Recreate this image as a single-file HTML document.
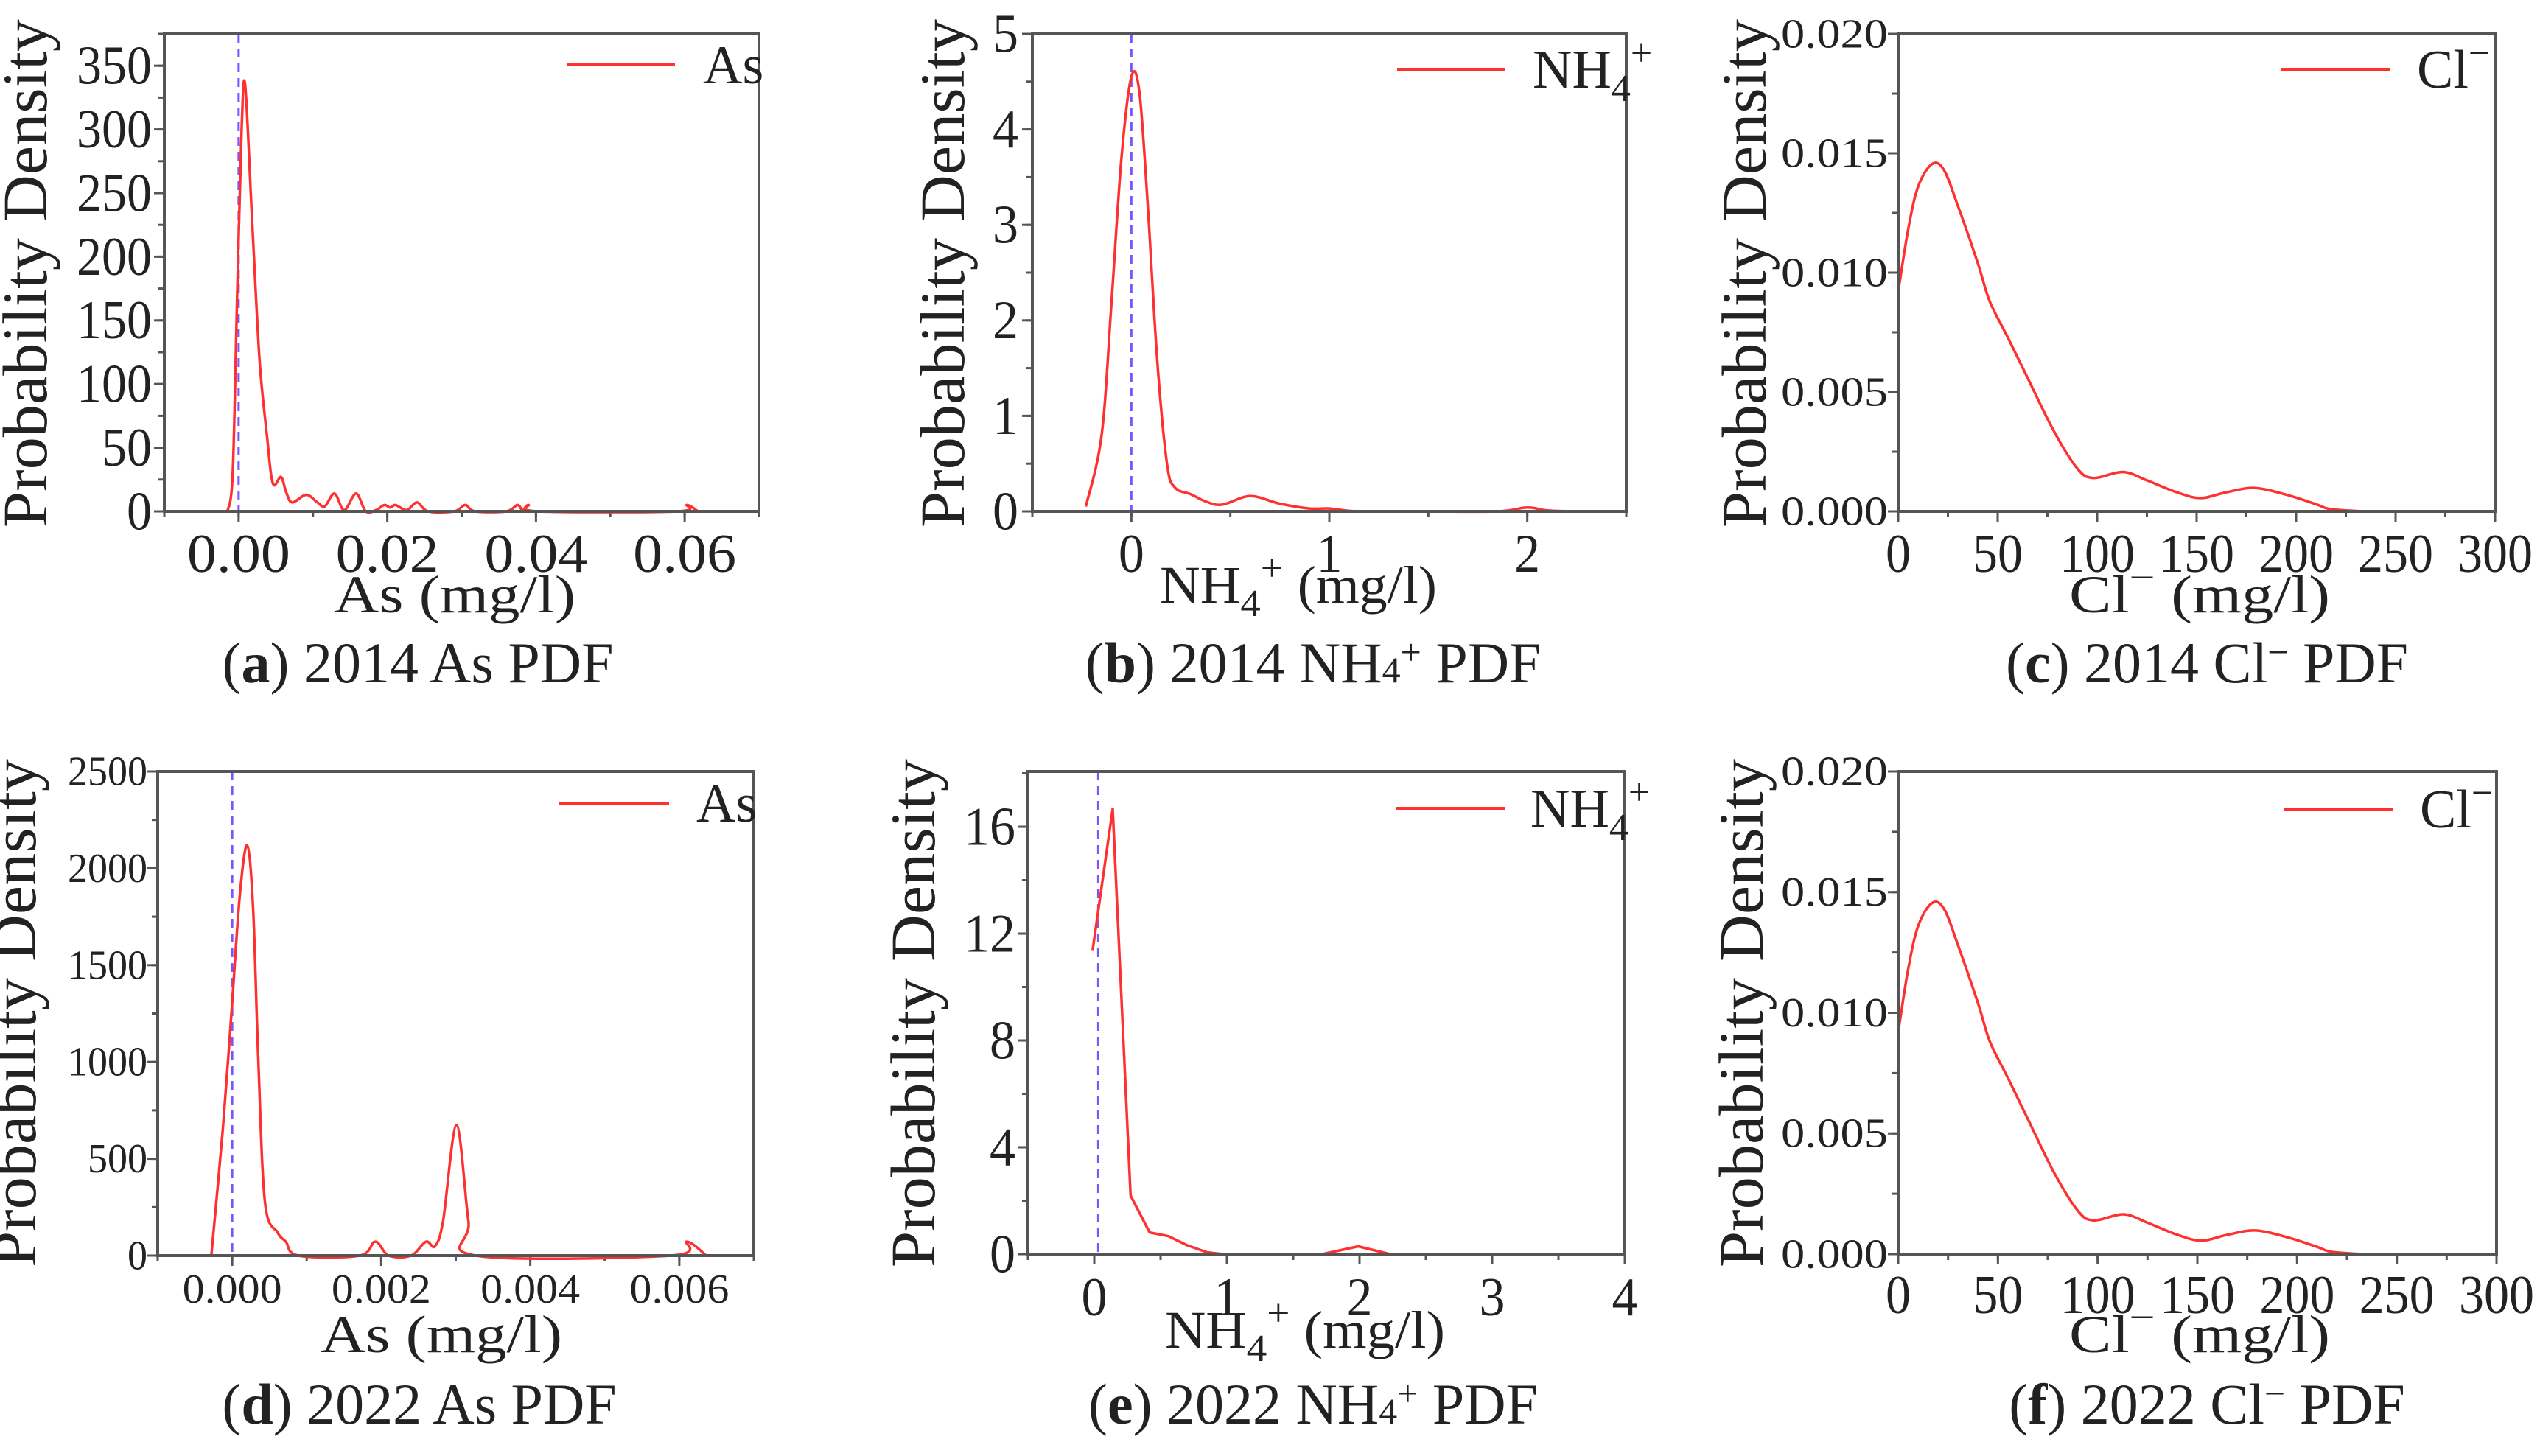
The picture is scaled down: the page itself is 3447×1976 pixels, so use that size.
<!DOCTYPE html>
<html><head><meta charset="utf-8"><style>
html,body{margin:0;padding:0;background:#fff;}
svg{display:block;}
text{font-family:"Liberation Serif","Noto Serif CJK SC",serif;fill:#222;}
</style></head><body>
<svg id="fig" width="3447" height="1976" viewBox="0 0 3447 1976" xmlns="http://www.w3.org/2000/svg"></svg>
<script>
// ---- data ----
const aX=[-0.0015,-0.0008,-0.0002,0.0004,0.00087,0.0018,0.0028,0.0038,0.0046,0.0057,0.0064,0.0072,0.0091,0.0106,0.0116,0.0129,0.0142,0.0158,0.0171,0.0185,0.0196,0.0204,0.0211,0.0226,0.024,0.0255,0.029,0.0305,0.0318,0.036,0.0375,0.0382,0.039,0.0403,0.059,0.0603,0.0618];
const aY=[0,30,170,300,335,230,120,60,22,27,15,7,13,7,4,14,1,14,0,1,5,3,5,1,7,0,0,5,0,0,5,1,5,0,0,5,0];
const bX=[-0.23,-0.15,-0.1,-0.05,0,0.04,0.08,0.13,0.18,0.22,0.3,0.38,0.46,0.6,0.75,0.9,1.0,1.15,1.5,1.85,2.0,2.1,2.23];
const bY=[0.05,0.8,2.2,3.7,4.55,4.4,3.3,1.6,0.5,0.25,0.18,0.1,0.07,0.16,0.08,0.03,0.03,0.0,0,0,0.04,0.01,0];
const cX=[0,5,10,17,23,30,40,46,55,65,78,90,98,113,125,140,152,165,179,195,210,217,233];
const cY=[0.0092,0.0118,0.0136,0.01455,0.0143,0.0128,0.0104,0.0088,0.0073,0.0056,0.0034,0.0018,0.0014,0.00165,0.0013,0.0008,0.00056,0.0008,0.00098,0.0007,0.0003,0.0001,0];
const dX=[-0.00028,-0.000125,-0.00001,0.0001,0.0002,0.00028,0.00035,0.00044,0.00061,0.00072,0.00089,0.00171,0.00192,0.0021,0.0024,0.0026,0.00272,0.00283,0.00301,0.00317,0.00327,0.00589,0.0061,0.00636];
const dY=[0,657,1253,1850,2118,1800,1015,275,119,72,0,0,72,0,0,72,48,179,673,179,0,0,72,0];
const eX=[-0.012,0.139,0.274,0.417,0.56,0.70,0.85,0.97,1.72,1.99,2.23,4.0];
const eY=[11.38,16.67,2.19,0.81,0.67,0.33,0.07,0,0,0.29,0,0];
const fX=cX.slice();
const fY=cY.slice();
const aTicksX=["0.00","0.02","0.04","0.06"], aTickValsX=[0,0.02,0.04,0.06];
const aTickValsY=[0,50,100,150,200,250,300,350];
const bTickValsX=[0,1,2], bTickValsY=[0,1,2,3,4,5];
const cTickValsX=[0,50,100,150,200,250,300], cTickValsY=[0,0.005,0.010,0.015,0.020];
const dTicksX=["0.000","0.002","0.004","0.006"], dTickValsX=[0,0.002,0.004,0.006];
const dTickValsY=[0,500,1000,1500,2000,2500];
const eTickValsX=[0,1,2,3,4], eTickValsY=[0,4,8,12,16];

const NS="http://www.w3.org/2000/svg";
const svg=document.getElementById('fig');
function mk(tag,attrs,parent){const e=document.createElementNS(NS,tag);for(const k in attrs)e.setAttribute(k,attrs[k]);(parent||svg).appendChild(e);return e;}

function smoothPath(pts){
  let d="M"+pts[0][0].toFixed(1)+","+pts[0][1].toFixed(1);
  for(let i=0;i<pts.length-1;i++){
    const p0=pts[i-1]||pts[i],p1=pts[i],p2=pts[i+1],p3=pts[i+2]||p2;
    const c1=[p1[0]+(p2[0]-p0[0])/6,p1[1]+(p2[1]-p0[1])/6];
    const c2=[p2[0]-(p3[0]-p1[0])/6,p2[1]-(p3[1]-p1[1])/6];
    d+=" C"+c1[0].toFixed(1)+","+c1[1].toFixed(1)+" "+c2[0].toFixed(1)+","+c2[1].toFixed(1)+" "+p2[0].toFixed(1)+","+p2[1].toFixed(1);
  }
  return d;
}

function panel(p){
  const g=mk('g',{});
  
  
  const sx=v=>p.L+(v-p.x0)/(p.x1-p.x0)*(p.R-p.L);
  const sy=v=>p.B-(v-p.y0)/(p.y1-p.y0)*(p.B-p.T);
  for(let v=p.x0;v<=p.x1+1e-12;v+=p.xm){const x=sx(v);const t=mk('line',{x1:x,x2:x,y1:p.B,y2:p.B+8,stroke:'#555','stroke-width':3},g);}
  for(let v=p.y0;v<=p.y1+1e-12;v+=p.ym){const y=sy(v);const t=mk('line',{x1:p.L-8,x2:p.L,y1:y,y2:y,stroke:'#555','stroke-width':3},g);}
  p.xt.forEach((v,i)=>{const x=sx(v);
    const t=mk('line',{x1:x,x2:x,y1:p.B,y2:p.B+14,stroke:'#555','stroke-width':3},g);
    
    const lab=p.xl?p.xl[i]:String(v);
    const tx=mk('text',{x:x,y:p.xlb,'text-anchor':'middle','font-size':p.xfs,textLength:lab.length*p.xcw,lengthAdjust:'spacingAndGlyphs'},g);
    tx.textContent=lab;});
  p.yt.forEach((v,i)=>{const y=sy(v);
    const t=mk('line',{x1:p.L-14,x2:p.L,y1:y,y2:y,stroke:'#555','stroke-width':3},g);
    
    const lab=p.yl?p.yl[i]:String(v);
    const tx=mk('text',{x:p.ylr,y:y+p.yfs*0.33,'text-anchor':'end','font-size':p.yfs,textLength:lab.length*p.ycw,lengthAdjust:'spacingAndGlyphs'},g);
    tx.textContent=lab;});
  if(p.dash!==null){
    const dl=mk('line',{x1:sx(p.dash),x2:sx(p.dash),y1:p.T,y2:p.B,stroke:'#7b55ff','stroke-width':3,'stroke-dasharray':'12 8'},g);
    
  }
  const pts=p.X.map((v,i)=>[sx(v),sy(p.Y[i])]);
  const d=p.poly?("M"+pts.map(q=>q[0].toFixed(1)+","+q[1].toFixed(1)).join(" L")):smoothPath(pts);
  const c=mk('path',{d:d,fill:'none',stroke:'#ff3030','stroke-width':3.5,'stroke-linejoin':'round'},g);
  
  const fr=mk('rect',{x:p.L,y:p.T,width:p.R-p.L,height:p.B-p.T,fill:'none',stroke:'#555','stroke-width':4},g);
  
  const lg=mk('g',{},g);
  mk('line',{x1:p.lg[0],x2:p.lg[1],y1:p.lg[2],y2:p.lg[2],stroke:'#ff3030','stroke-width':4},lg);
  const lt=mk('text',{x:p.lg[3],y:p.lg[2]+25,'font-size':74},lg);lt.innerHTML=p.lgText;
  const yc=p.ylab;
  const yt=mk('text',{x:0,y:0,'font-size':86,'text-anchor':'middle',textLength:690,lengthAdjust:'spacingAndGlyphs',transform:`translate(${yc[0]},${yc[1]}) rotate(-90)`},g);
  yt.textContent='Probability Density';
  const xt=mk('text',{x:p.xtit[0],y:p.xtit[2],'font-size':72,textLength:p.xtit[1]-p.xtit[0],lengthAdjust:'spacingAndGlyphs'},g);
  xt.innerHTML=p.xtitText;
  const cp=mk('text',{x:p.cap[0],y:p.cap[1],'font-size':78,'text-anchor':'middle'},g);
  cp.innerHTML=p.capText;
}
const NH='NH<tspan dy="18" font-size="52">4</tspan><tspan dy="-48" font-size="52">+</tspan><tspan dy="30"></tspan>';
const CL='Cl<tspan dy="-30" font-size="52">−</tspan><tspan dy="30"></tspan>';
panel({id:'a',L:223,R:1030,T:46,B:694,x0:-0.01,x1:0.07,y0:0,y1:375,xm:0.01,ym:25,xt:aTickValsX,xl:aTicksX,yt:aTickValsY,
 xlb:776,xfs:74,xcw:35,ylr:206,yfs:74,ycw:34,dash:0,X:aX,Y:aY,lg:[769,916,88,954],lgText:'As',ylab:[63,371],
 xtit:[453,781,831],xtitText:'As (mg/l)',cap:[567,926],capText:'(<tspan font-weight="bold">a</tspan>) 2014 As PDF'});
panel({id:'b',L:1401,R:2207,T:46,B:694,x0:-0.5,x1:2.5,y0:0,y1:5,xm:0.5,ym:0.5,xt:bTickValsX,yt:bTickValsY,
 xlb:776,xfs:74,xcw:35,ylr:1382,yfs:74,ycw:35,dash:0,X:bX,Y:bY,lg:[1896,2042,94,2080],lgText:NH,ylab:[1308,371],
 xtit:[1574,1950,818],xtitText:'NH<tspan dy="18" font-size="52">4</tspan><tspan dy="-48" font-size="52">+</tspan><tspan dy="30"> (mg/l)</tspan>',cap:[1782,926],capText:'(<tspan font-weight="bold">b</tspan>) 2014 NH<tspan font-size="50">4</tspan><tspan font-size="50" dy="-24">+</tspan><tspan dy="24"> PDF</tspan>'});
panel({id:'c',L:2576,R:3386,T:46,B:694,x0:0,x1:300,y0:0,y1:0.02,xm:25,ym:0.0025,xt:cTickValsX,yt:cTickValsY,yl:["0.000","0.005","0.010","0.015","0.020"],
 xlb:776,xfs:74,xcw:34,ylr:2562,yfs:56,ycw:29,dash:null,X:cX,Y:cY,lg:[3096,3243,94,3280],lgText:CL,ylab:[2396,371],
 xtit:[2808,3162,831],xtitText:'Cl<tspan dy="-30" font-size="52">−</tspan><tspan dy="30"> (mg/l)</tspan>',cap:[2995,926],capText:'(<tspan font-weight="bold">c</tspan>) 2014 Cl<tspan font-size="50" dy="-24">−</tspan><tspan dy="24"> PDF</tspan>'});
panel({id:'d',L:214,R:1023,T:1047,B:1704,x0:-0.001,x1:0.007,y0:0,y1:2500,xm:0.001,ym:250,xt:dTickValsX,xl:dTicksX,yt:dTickValsY,
 xlb:1768,xfs:56,xcw:27,ylr:200,yfs:56,ycw:27,dash:0,X:dX,Y:dY,lg:[759,908,1090,945],lgText:'As',ylab:[48,1375],
 xtit:[435,763,1835],xtitText:'As (mg/l)',cap:[569,1932],capText:'(<tspan font-weight="bold">d</tspan>) 2022 As PDF'});
panel({id:'e',L:1395,R:2205,T:1047,B:1702,x0:-0.5,x1:4,y0:0,y1:18.07,xm:0.5,ym:2,xt:eTickValsX,yt:eTickValsY,
 xlb:1785,xfs:74,xcw:35,ylr:1378,yfs:74,ycw:35,dash:0.03,X:eX,Y:eY,poly:true,lg:[1894,2042,1097,2077],lgText:NH,ylab:[1268,1375],
 xtit:[1581,1961,1829],xtitText:'NH<tspan dy="18" font-size="52">4</tspan><tspan dy="-48" font-size="52">+</tspan><tspan dy="30"> (mg/l)</tspan>',cap:[1782,1932],capText:'(<tspan font-weight="bold">e</tspan>) 2022 NH<tspan font-size="50">4</tspan><tspan font-size="50" dy="-24">+</tspan><tspan dy="24"> PDF</tspan>'});
panel({id:'f',L:2576,R:3388,T:1047,B:1702,x0:0,x1:300,y0:0,y1:0.02,xm:25,ym:0.0025,xt:cTickValsX,yt:cTickValsY,yl:["0.000","0.005","0.010","0.015","0.020"],
 xlb:1782,xfs:74,xcw:34,ylr:2562,yfs:56,ycw:29,dash:null,X:fX,Y:fY,lg:[3100,3247,1098,3284],lgText:CL,ylab:[2392,1375],
 xtit:[2808,3162,1835],xtitText:'Cl<tspan dy="-30" font-size="52">−</tspan><tspan dy="30"> (mg/l)</tspan>',cap:[2995,1932],capText:'(<tspan font-weight="bold">f</tspan>) 2022 Cl<tspan font-size="50" dy="-24">−</tspan><tspan dy="24"> PDF</tspan>'});
</script>
</body></html>
